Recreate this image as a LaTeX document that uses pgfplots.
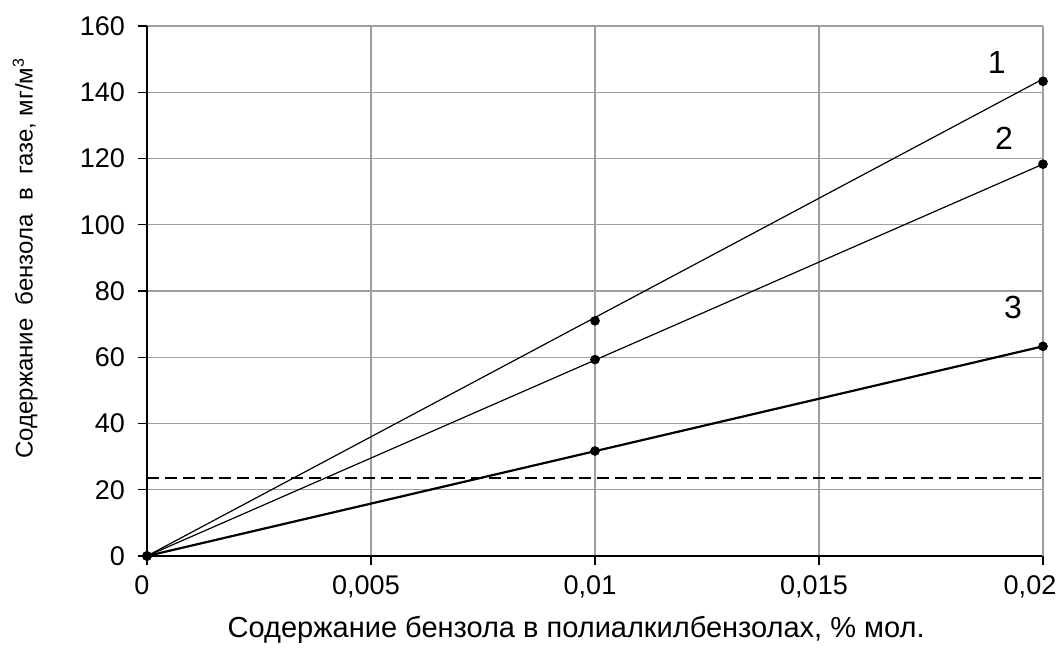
\documentclass[border=0pt]{standalone}
\usepackage{fontspec}
\setmainfont{Liberation Sans}
\usepackage{pgfplots}
\pgfplotsset{compat=1.18}
\newcommand\lastlab{0,02}
\begin{document}
\begin{tikzpicture}
\begin{axis}[
  scale only axis,
  width=448pt, height=265pt,
  xmin=0, xmax=0.02, ymin=0, ymax=160,
  axis lines*=left,
  axis line style={black, line width=0.8pt},
  xtick={0,0.005,0.01,0.015},
  xticklabels={0,{0,005},{0,01},{0,015}},
  extra x ticks={0.02},
  extra x tick labels={\lastlab},
  extra x tick style={grid=major, xticklabel style={xshift=-4pt}},
  ytick={0,20,...,160},
  tick align=outside,
  major tick length=4.5pt,
  tick style={black, line width=0.6pt},
  grid=major,
  grid style={gray!75, line width=0.6pt},
  font=\fontsize{13.5pt}{16pt}\selectfont,
  /pgf/number format/assume math mode=true,
  scaled x ticks=false,
  xticklabel style={yshift=-2pt, xshift=-2.5pt},
  yticklabel style={xshift=-3pt},
  xlabel={Содержание бензола в полиалкилбензолах, \% мол.},
  ylabel={Содержание\ \ бензола\ \ в\ \ газе,\ мг/м\textsuperscript{3}},
  every axis x label/.style={at={(axis description cs:0.479,-0.14)}, anchor=center, font=\fontsize{14.5pt}{16pt}\selectfont},
  every axis y label/.style={at={(axis description cs:-0.136,0.562)}, rotate=90, anchor=center, font=\fontsize{12pt}{14pt}\selectfont},
  clip=false,
]
% trend lines
\addplot[black, line width=0.6pt] coordinates {(0,0) (0.02,144)};
\addplot[black, line width=0.6pt] coordinates {(0,0) (0.02,118.3)};
\addplot[black, line width=1.1pt] coordinates {(0,0) (0.02,63.3)};
% data points
\addplot[only marks, mark=*, mark size=2.2pt, black] coordinates {(0,0) (0.01,71) (0.02,143.3)};
\addplot[only marks, mark=*, mark size=2.2pt, black] coordinates {(0,0) (0.01,59.3) (0.02,118.3)};
\addplot[only marks, mark=*, mark size=2.2pt, black] coordinates {(0,0) (0.01,31.7) (0.02,63.3)};
% dashed limit
\addplot[black, dashed, dash pattern=on 6pt off 3pt, line width=0.7pt] coordinates {(0,23.5) (0.02,23.5)};
\node[font=\fontsize{16pt}{18pt}\selectfont] at (axis cs:0.01897,149) {1};
\node[font=\fontsize{16pt}{18pt}\selectfont] at (axis cs:0.01913,126) {2};
\node[font=\fontsize{16pt}{18pt}\selectfont] at (axis cs:0.01933,75) {3};
\end{axis}
\pgfresetboundingbox
\path[use as bounding box] (-73.5pt,-52pt) rectangle (458.5pt,278pt);
\end{tikzpicture}
\end{document}
